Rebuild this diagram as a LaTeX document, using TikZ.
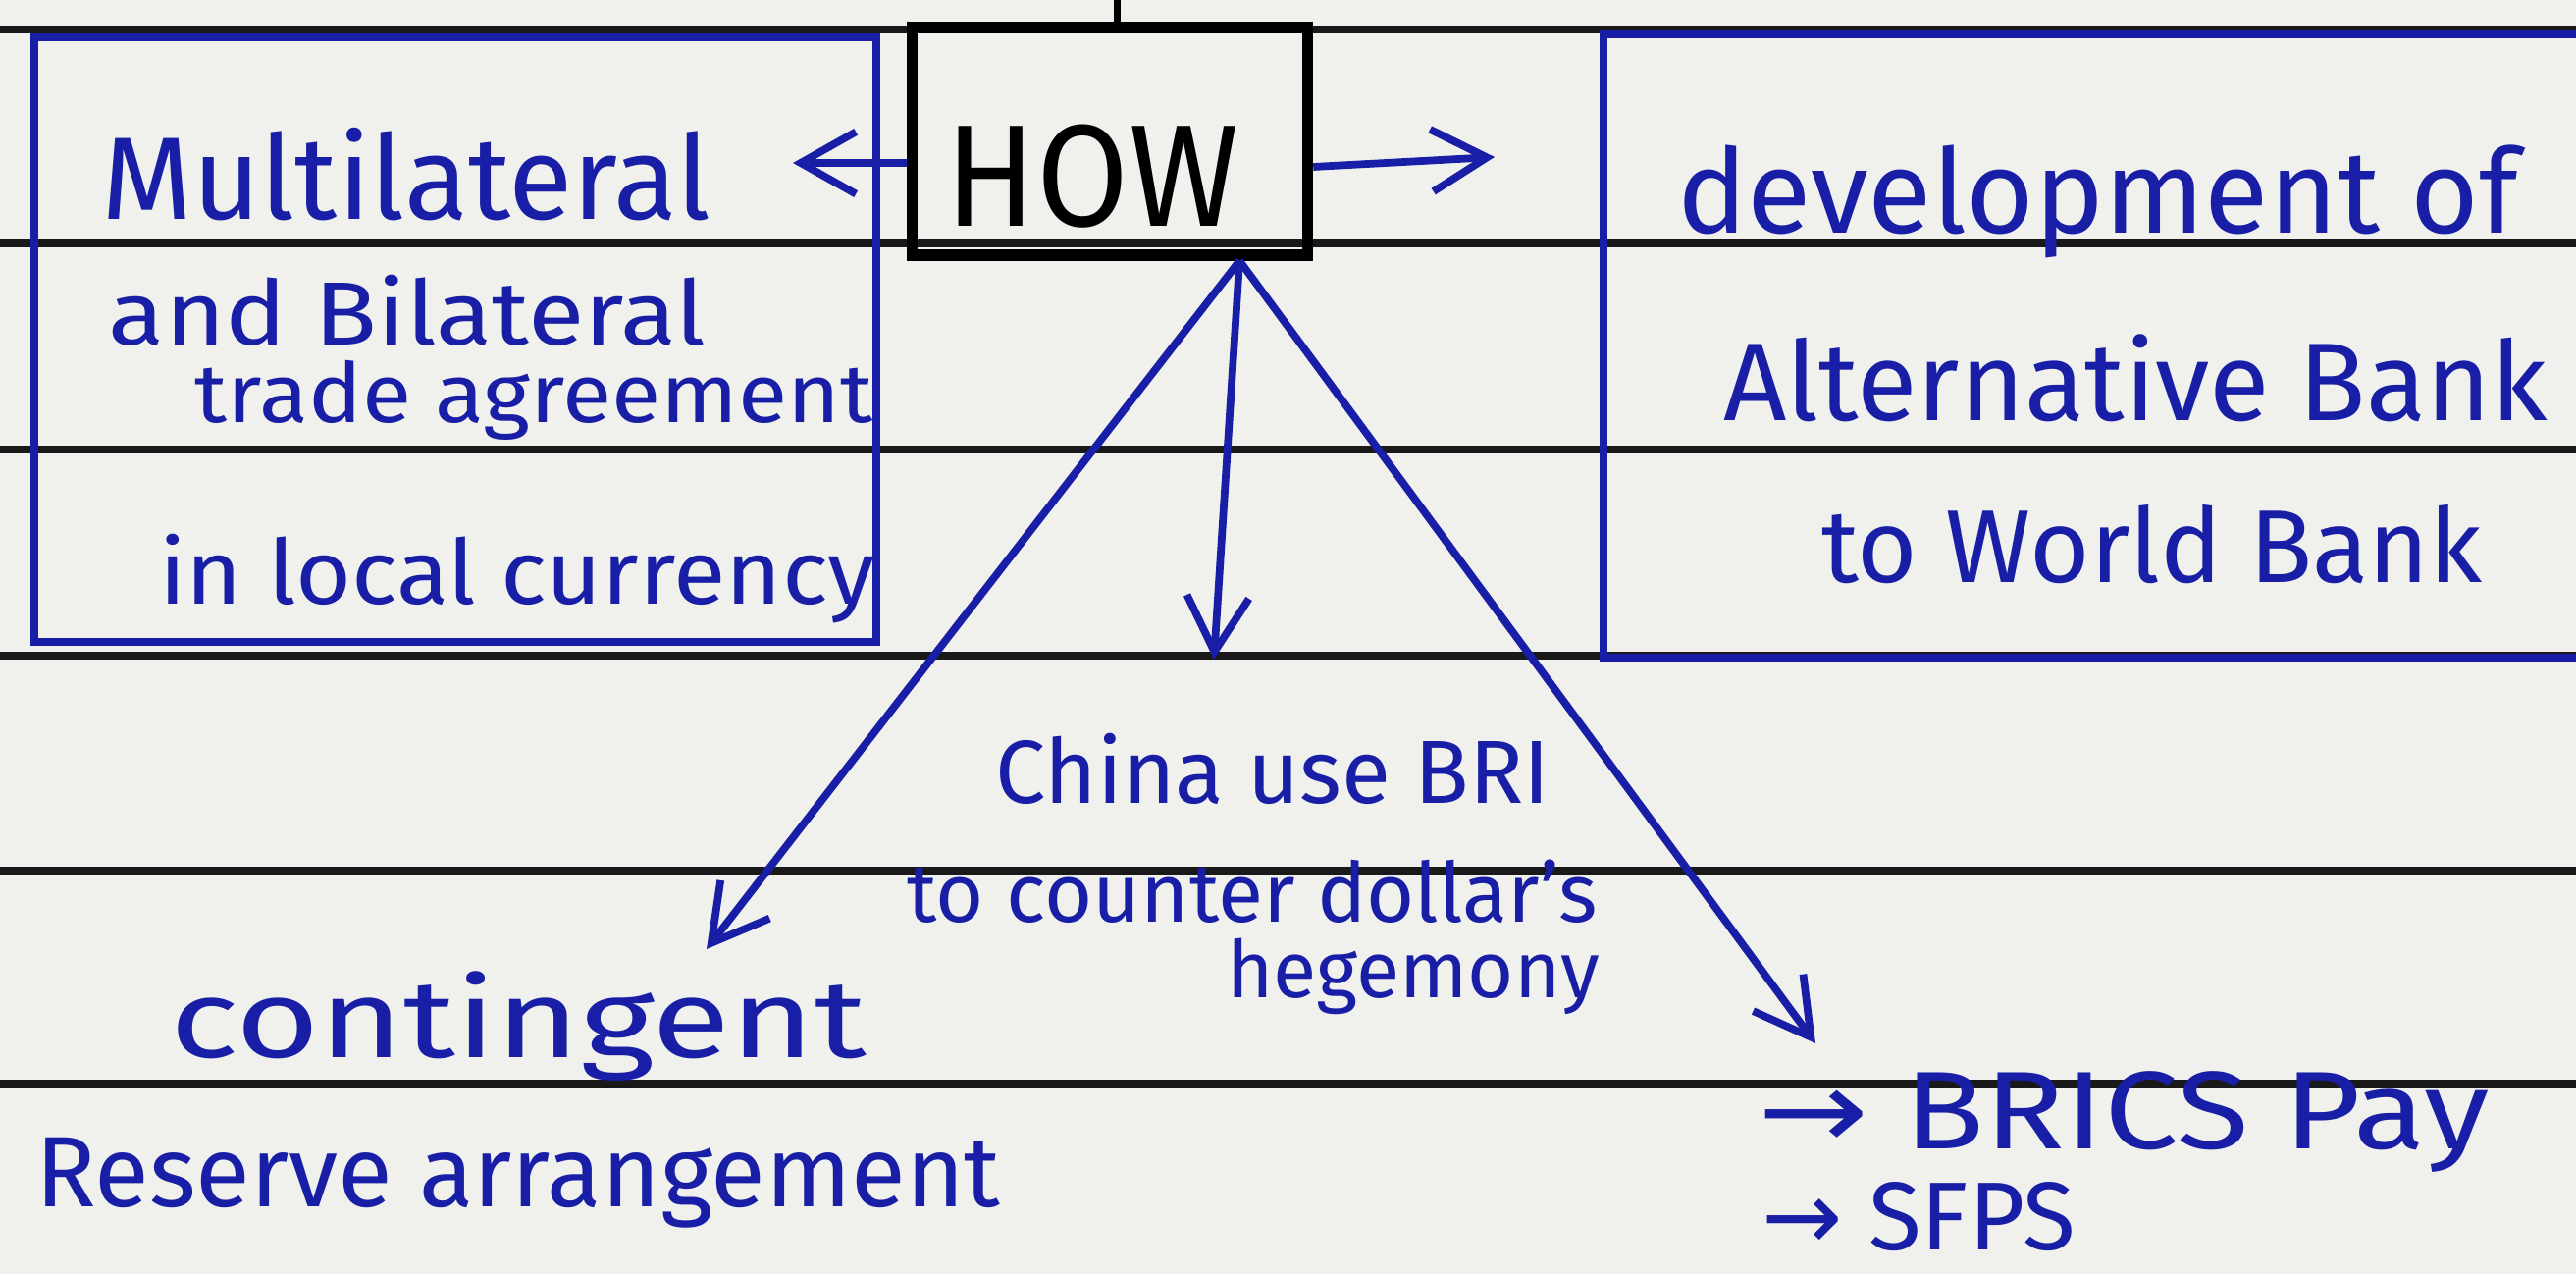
\documentclass[tikz,border=0pt]{standalone}
\usepackage{fontspec}
\usepackage{graphicx}
\setmainfont{Fira Sans}
\newfontfamily\symfont{DejaVu Sans}
\usetikzlibrary{arrows.meta}
\definecolor{ink}{RGB}{24,30,165}
\definecolor{paper}{RGB}{240,240,236}
\newcommand{\fsz}[1]{\fontsize{#1}{#1}\selectfont}
\begin{document}
\begin{tikzpicture}[x=0.01cm,y=-0.01cm,
  rule/.style={black!90,line width=2pt},
  inkline/.style={ink,line width=2.2pt},
  arr/.style={inkline,-{Straight Barb[length=16pt,width=18pt]}},
  txt/.style={text=ink,inner sep=0pt},
]
\fill[paper] (0,0) rectangle (2625,1298);
\useasboundingbox (0,0) rectangle (2625,1298);
\foreach \yy in {30,248,458,668,887,1104} \draw[rule] (0,\yy) -- (2625,\yy);
% boxes
\node[draw=ink,line width=2.2pt,minimum width=8.57cm,minimum height=6.16cm,inner sep=0pt] (leftbox) at (464,346) {};
\node[draw=black,line width=3.2pt,minimum width=4.03cm,minimum height=2.32cm,inner sep=0pt] (how) at (1131,144) {};
\node[font=\fsz{42},text=black,inner sep=0pt] (howtxt) at (1113,180) {\scalebox{0.92}[1]{HOW}};
\coordinate (rbtl) at (1634,35);
\coordinate (rbbl) at (1634,670);
\coordinate (rbtr) at (2625,35);
\coordinate (rbbr) at (2625,670);
\draw[inkline] (rbtr) -- (rbtl) -- (rbbl) -- (rbbr);
% top connector
\coordinate (top) at (1138,0);
\draw[black,line width=2pt] (top) -- (top |- how.north);
% arrows
\coordinate (lend) at (808,166);
\draw[arr] (how.west |- lend) -- (lend);
\coordinate (rend) at (1523,160);
\draw[arr] ([yshift=-0.26cm]how.east) -- (rend);
\coordinate (apex) at ([xshift=1.32cm]how.south);
\coordinate (bl) at (720,967);
\coordinate (dn) at (1237,672);
\coordinate (br) at (1850,1063);
\draw[arr] (apex) -- (bl);
\draw[arr] (apex) -- (dn);
\draw[arr] (apex) -- (br);
% left box text
\node[txt,font=\fsz{34}] (l1) at (414,178) {Multilateral};
\node[txt,font=\fsz{26}] (l2) at (415,316) {\scalebox{1.15}[1]{and Bilateral}};
\node[txt,font=\fsz{24}] (l3) at (544,408) {\scalebox{1.09}[1]{trade agreement}};
\node[txt,font=\fsz{26}] (l4) at (527,590) {\scalebox{1.07}[1]{in local currency}};
% right box text
\node[txt,font=\fsz{34}] (r1) at (2138,205) {development of};
\node[txt,font=\fsz{32}] (r2) at (2176,385) {Alternative Bank};
\node[txt,font=\fsz{30}] (r3) at (2193,555) {to World Bank};
% bottom texts
\node[txt,font=\fsz{26}] (c1) at (1297,783) {China use BRI};
\node[txt,font=\fsz{24}] (c2) at (1276,908) {to counter dollar's};
\node[txt,font=\fsz{23}] (c3) at (1440,995) {hegemony};
\node[txt,font=\fsz{32}] (b1) at (528,1046) {\scalebox{1.3}[1]{contingent}};
\node[txt,font=\fsz{29}] (b2) at (528,1205) {Reserve arrangement};
\node[txt,font=\fsz{32},anchor=west] (p1) at (1791,1143) {\scalebox{1.2}[1]{{\symfont→} BRICS Pay}};
\node[txt,font=\fsz{28},anchor=west] (p2) at (1795,1240) {{\symfont→} SFPS};
\end{tikzpicture}
\end{document}
